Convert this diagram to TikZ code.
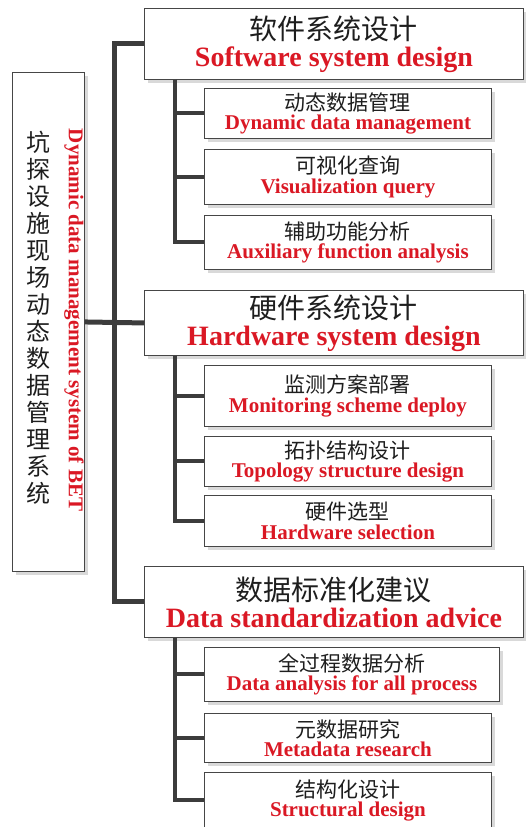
\documentclass[tikz,border=0pt]{standalone}
\usepackage{fontspec}
\setmainfont{Liberation Serif}
\newfontfamily\cjk{Noto Sans CJK SC}
\usetikzlibrary{shadows}
\definecolor{ered}{RGB}{218,24,36}
\definecolor{lineg}{RGB}{60,60,60}
\definecolor{boxg}{RGB}{70,70,70}
\definecolor{txtg}{RGB}{30,30,30}
\newcommand{\zhtxt}[1]{{\cjk\color{txtg}#1}}
\newcommand{\entxt}[1]{{\bfseries\color{ered}#1}}
\tikzset{
  box/.style={draw=boxg, line width=0.9pt, fill=white, inner sep=0pt, anchor=north west, align=center,
    drop shadow={shadow xshift=4pt, shadow yshift=-4pt, fill=black!15, opacity=1}},
  topbox/.style={box, minimum width=379pt, minimum height=#1, font=\fontsize{28}{27}\selectfont},
  subbox/.style={box, minimum width=287pt, minimum height=#1, font=\fontsize{21}{19.5}\selectfont},
  mainline/.style={draw=lineg, line width=5pt},
  subline/.style={draw=lineg, line width=4pt},
}
\begin{document}
\begin{tikzpicture}[x=1pt, y=-1pt]
\useasboundingbox (0,0) rectangle (525,827);
% root
\node[box, minimum width=72pt, minimum height=499pt] (root) at (12,72) {};
\node[inner sep=0pt, align=center, font=\fontsize{24}{27}\selectfont\cjk\color{txtg}] (rootcn) at (38,318)
  {坑\\探\\设\\施\\现\\场\\动\\态\\数\\据\\管\\理\\系\\统};
\node[inner sep=0pt, rotate=-90, font=\fontsize{21}{21}\selectfont\bfseries, text=ered] (rooten) at (74,320)
  {Dynamic data management system of BET};
% top-level boxes
\node[topbox=71pt] (t1) at (144,8) {\zhtxt{软件系统设计}\\\entxt{Software system design}};
\node[topbox=65pt] (t2) at (144,290) {\zhtxt{硬件系统设计}\\\entxt{Hardware system design}};
\node[topbox=71pt] (t3) at (144,566) {\zhtxt{数据标准化建议}\\\entxt{Data standardization advice}};
% group 1
\node[subbox=50pt] (a1) at (204,88) {\zhtxt{动态数据管理}\\\entxt{Dynamic data management}};
\node[subbox=55pt] (a2) at (204,149) {\zhtxt{可视化查询}\\\entxt{Visualization query}};
\node[subbox=54pt] (a3) at (204,215) {\zhtxt{辅助功能分析}\\\entxt{Auxiliary function analysis}};
% group 2
\node[subbox=61pt] (b1) at (204,365) {\zhtxt{监测方案部署}\\\entxt{Monitoring scheme deploy}};
\node[subbox=50pt] (b2) at (204,436) {\zhtxt{拓扑结构设计}\\\entxt{Topology structure design}};
\node[subbox=51pt] (b3) at (204,495) {\zhtxt{硬件选型}\\\entxt{Hardware selection}};
% group 3
\node[subbox=54pt, minimum width=295pt] (c1) at (204,647) {\zhtxt{全过程数据分析}\\\entxt{Data analysis for all process}};
\node[subbox=49pt] (c2) at (204,713) {\zhtxt{元数据研究}\\\entxt{Metadata research}};
\node[subbox=56pt] (c3) at (204,772) {\zhtxt{结构化设计}\\\entxt{Structural design}};
% connectors
\coordinate (mt) at (114,322);
\draw[mainline] (t1.west) -| (mt) |- (t3.west);
\draw[mainline] (root.east) -- (t2.west);
\coordinate (g1) at ([xshift=31pt]t1.south west);
\coordinate (g2) at ([xshift=31pt]t2.south west);
\coordinate (g3) at ([xshift=31pt]t3.south west);
\draw[subline] (g1) |- (a1.west);
\draw[subline] (g1) |- (a2.west);
\draw[subline] (g1) |- (a3.west);
\draw[subline] (g2) |- (b1.west);
\draw[subline] (g2) |- (b2.west);
\draw[subline] (g2) |- (b3.west);
\draw[subline] (g3) |- (c1.west);
\draw[subline] (g3) |- (c2.west);
\draw[subline] (g3) |- (c3.west);
\end{tikzpicture}
\end{document}
